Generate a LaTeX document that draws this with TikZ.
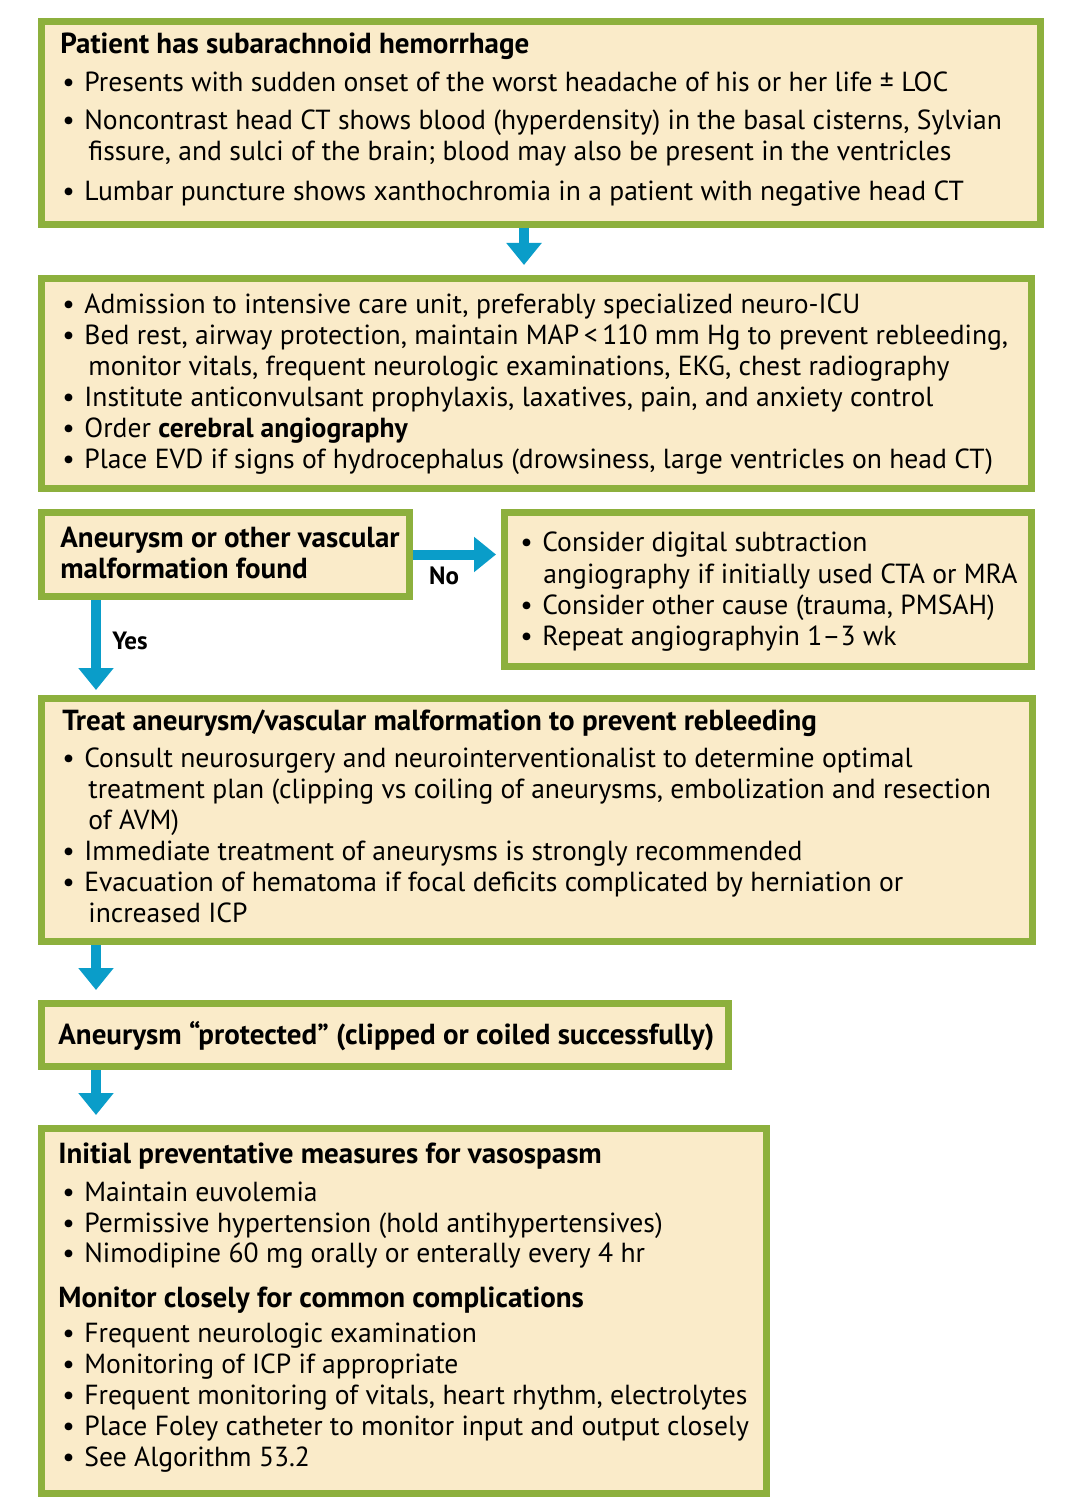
\documentclass[tikz,border=0pt]{standalone}
\usepackage{fontspec}
\setmainfont{PT Sans}
\usetikzlibrary{arrows.meta}
\definecolor{gborder}{HTML}{8DB03D}
\definecolor{bfill}{HTML}{FAEBC9}
\definecolor{ablue}{HTML}{0A9DC9}
\tikzset{
  box/.style={draw=gborder, fill=bfill, line width=3.5pt, rectangle, inner sep=0pt},
  txt/.style={anchor=base west, inner sep=0pt, text=black, font=\fontsize{13.8}{16}\selectfont},
  hd/.style={txt, font=\fontsize{14.5}{17}\selectfont\bfseries},
  lbl/.style={inner sep=0pt, font=\fontsize{12.5}{14}\selectfont\bfseries},
  arr/.style={draw=ablue, line width=5pt, -{Triangle[width=17pt,length=11pt]}},
}
% \bl{name}{bullet x}{baseline y}{text}
\newcommand{\bl}[4]{\node[txt] (#1b) at ({#2+2},#3) {\textbullet}; \node[txt] (#1) at ({#2+24},#3) {#4};}
\begin{document}
\begin{tikzpicture}[x=0.5pt, y=-0.5pt]
\path[fill=white] (0,0) rectangle (1078,1507);
\useasboundingbox (0,0) rectangle (1078,1507);

% boxes
\node[box, minimum width=499.5pt, minimum height=101.5pt] (b1) at (541,123) {};
\node[box, minimum width=495pt, minimum height=105pt] (b2) at (536.5,383.5) {};
\node[box, minimum width=184pt, minimum height=42pt] (b3) at (225.5,554.5) {};
\node[box, minimum width=263.5pt, minimum height=77pt] (b4) at (768,589.5) {};
\node[box, minimum width=495.5pt, minimum height=121.5pt] (b5) at (537,820) {};
\node[box, minimum width=343.5pt, minimum height=31.5pt] (b6) at (385,1035) {};
\node[box, minimum width=362.5pt, minimum height=182.5pt] (b7) at (404,1311) {};

% box 1
\node[hd] (t1) at (60,54) {Patient has subarachnoid hemorrhage};
\bl{t1a}{60}{92}{Presents with sudden onset of the worst headache of his or her life ± LOC}
\bl{t1b}{60}{130}{Noncontrast head CT shows blood (hyperdensity) in the basal cisterns, Sylvian}
\node[txt] (t1c) at (88,161) {fissure, and sulci of the brain; blood may also be present in the ventricles};
\bl{t1d}{60}{201}{Lumbar puncture shows xanthochromia in a patient with negative head CT}

% box 2
\bl{t2a}{60}{314}{Admission to intensive care unit, preferably specialized neuro-ICU}
\bl{t2b}{60}{345}{Bed rest, airway protection, maintain MAP\,<\,110 mm Hg to prevent rebleeding,}
\node[txt] (t2c) at (88,376) {monitor vitals, frequent neurologic examinations, EKG, chest radiography};
\bl{t2d}{60}{407}{Institute anticonvulsant prophylaxis, laxatives, pain, and anxiety control}
\bl{t2e}{60}{438}{Order \textbf{cerebral angiography}}
\bl{t2f}{60}{469}{Place EVD if signs of hydrocephalus (drowsiness, large ventricles on head CT)}

% box 3
\node[hd] (t3a) at (60,547) {Aneurysm or other vascular};
\node[hd] (t3b) at (60,578) {malformation found};

% box 4
\bl{t4a}{518}{552}{Consider digital subtraction}
\node[txt] (t4b) at (543,583) {angiography if initially used CTA or MRA};
\bl{t4c}{518}{614}{Consider other cause (trauma, PMSAH)}
\bl{t4d}{518}{645}{Repeat angiographyin 1–3 wk}

% box 5
\node[hd] (t5) at (62,730) {Treat aneurysm/vascular malformation to prevent rebleeding};
\bl{t5a}{60}{767}{Consult neurosurgery and neurointerventionalist to determine optimal}
\node[txt] (t5b) at (88,798) {treatment plan (clipping vs coiling of aneurysms, embolization and resection};
\node[txt] (t5c) at (88,829) {of AVM)};
\bl{t5d}{60}{860}{Immediate treatment of aneurysms is strongly recommended}
\bl{t5e}{60}{891}{Evacuation of hematoma if focal deficits complicated by herniation or}
\node[txt] (t5f) at (88,922) {increased ICP};

% box 6
\node[hd] (t6) at (58,1044) {Aneurysm “protected” (clipped or coiled successfully)};

% box 7
\node[hd] (t7) at (58,1163) {Initial preventative measures for vasospasm};
\bl{t7a}{60}{1201}{Maintain euvolemia}
\bl{t7b}{60}{1232}{Permissive hypertension (hold antihypertensives)}
\bl{t7c}{60}{1262}{Nimodipine 60 mg orally or enterally every 4 hr}
\node[hd] (t8) at (58,1307) {Monitor closely for common complications};
\bl{t8a}{60}{1342}{Frequent neurologic examination}
\bl{t8b}{60}{1373}{Monitoring of ICP if appropriate}
\bl{t8c}{60}{1404}{Frequent monitoring of vitals, heart rhythm, electrolytes}
\bl{t8d}{60}{1435}{Place Foley catheter to monitor input and output closely}
\bl{t8e}{60}{1466}{See Algorithm 53.2}

% connectors
\coordinate (c1) at (524,0);
\coordinate (c2) at (96,0);
\draw[arr, shorten >=5pt] (b1.south -| c1) -- (b2.north -| c1);
\draw[arr, shorten >=2.5pt] (b3.east) -- (b4.west |- b3.east);
\draw[arr, shorten >=2.5pt] (b3.south -| c2) -- (b5.north -| c2);
\draw[arr, shorten >=5pt] (b5.south -| c2) -- (b6.north -| c2);
\draw[arr, shorten >=5pt] (b6.south -| c2) -- (b7.north -| c2);
\node[lbl] (no) at (444,576) {No};
\node[lbl] (yes) at (130,641) {Yes};
\end{tikzpicture}
\end{document}
